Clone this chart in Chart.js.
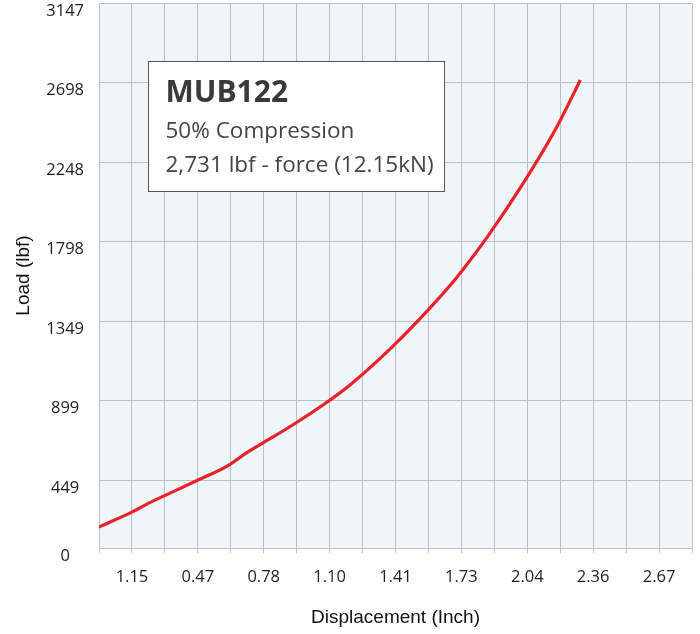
<!DOCTYPE html>
<html lang="en">
<head>
<meta charset="UTF-8">
<title>MUB122 Load vs Displacement</title>
<style>
    body { margin: 0; background: #fff; }
    #box { width: 700px; height: 634px; }
</style>
</head>
<body>
<div id="box"><canvas id="grafico"></canvas></div>
<script src="https://cdn.jsdelivr.net/npm/chart.js"></script>
<script>
    // values
    const xTickLabels = ['', '1.15', '', '0.47', '', '0.78', '', '1.10', '', '1.41', '', '1.73', '', '2.04', '', '2.36', '', '2.67', ''];
    const xStep = 0.1572;
    const yTickValues = [67, 449, 899, 1349, 1798, 2248, 2698, 3147];
    const yTickLabels = ['0', '449', '899', '1349', '1798', '2248', '2698', '3147'];

    const displacement = [0, 0.154, 0.245, 0.308, 0.463, 0.618, 0.698, 0.770, 0.924, 1.077, 1.199, 1.387, 1.533, 1.704, 1.859, 2.020, 2.181, 2.297];
    const load = [186, 268, 325, 360, 446, 534, 600, 652, 762, 882, 990, 1190, 1365, 1592, 1835, 2120, 2439, 2712];

    const boxLines = ['MUB122', '50% Compression', '2,731 lbf - force (12.15kN)'];

    const pontos = displacement.map((x, i) => ({ x: x, y: load[i] }));

    const fundoPlot = {
        id: 'fundoPlot',
        beforeDraw(chart) {
            const { ctx, chartArea: a } = chart;
            ctx.save();
            ctx.fillStyle = '#eef6fc';
            ctx.fillRect(a.left, a.top, a.right - a.left, a.bottom - a.top);
            ctx.restore();
        }
    };

    const caixaTexto = {
        id: 'caixaTexto',
        afterDatasetsDraw(chart) {
            const { ctx, chartArea: a } = chart;
            const x = a.left + 49.5, y = a.top + 58.5;
            ctx.save();
            ctx.fillStyle = '#ffffff';
            ctx.fillRect(x, y, 296, 130);
            ctx.strokeStyle = '#555555';
            ctx.lineWidth = 1;
            ctx.strokeRect(x, y, 296, 130);
            ctx.textBaseline = 'alphabetic';
            ctx.fillStyle = '#3a3a3a';
            ctx.font = 'bold 30px "Open Sans"';
            ctx.fillText(boxLines[0], x + 17, y + 40);
            ctx.fillStyle = '#444444';
            ctx.font = '22.5px "Open Sans"';
            ctx.fillText(boxLines[1], x + 17, y + 76);
            ctx.fillText(boxLines[2], x + 17, y + 110);
            ctx.restore();
        }
    };

    new Chart(document.getElementById('grafico'), {
        type: 'line',
        data: {
            datasets: [{
                data: pontos,
                borderColor: '#e8212b',
                borderWidth: 3.2,
                pointRadius: 0,
                cubicInterpolationMode: 'monotone',
                fill: false
            }]
        },
        options: {
            responsive: true,
            maintainAspectRatio: false,
            animation: false,
            layout: { padding: { top: 3, right: 8, left: 0, bottom: 0 } },
            plugins: {
                legend: { display: false },
                tooltip: { enabled: false }
            },
            scales: {
                x: {
                    type: 'linear',
                    min: 0,
                    max: xStep * (xTickLabels.length - 1),
                    afterBuildTicks(scale) {
                        scale.ticks = xTickLabels.map((_, i) => ({ value: i * xStep }));
                    },
                    afterFit(scale) {
                        scale.height = 86;
                        scale.paddingLeft = 0;
                        scale.paddingRight = 0;
                    },
                    grid: { color: '#bcc0c4', lineWidth: 1, drawTicks: true, tickLength: 5 },
                    border: { color: '#bcc0c4' },
                    ticks: {
                        autoSkip: false,
                        maxRotation: 0,
                        padding: 14,
                        color: '#1e1e1e',
                        font: { family: '"Open Sans"', size: 16.5 },
                        callback: (value, index) => xTickLabels[index]
                    },
                    title: {
                        display: true,
                        text: 'Displacement (Inch)',
                        color: '#111111',
                        font: { family: '"Liberation Sans", Arial', size: 19 },
                        padding: { top: 0, bottom: 5 }
                    }
                },
                y: {
                    type: 'linear',
                    min: yTickValues[0],
                    max: yTickValues[yTickValues.length - 1],
                    afterBuildTicks(scale) {
                        scale.ticks = yTickValues.map(v => ({ value: v }));
                    },
                    afterFit(scale) {
                        scale.width = 99;
                        scale.paddingTop = 0;
                        scale.paddingBottom = 0;
                    },
                    grid: { color: '#bcc0c4', lineWidth: 1, drawTicks: false },
                    border: { color: '#bcc0c4' },
                    ticks: {
                        autoSkip: false,
                        padding: 15,
                        crossAlign: 'center',
                        labelOffset: 8,
                        color: '#1e1e1e',
                        font: { family: '"Open Sans"', size: 16.5 },
                        callback: (value, index) => yTickLabels[index]
                    },
                    title: {
                        display: true,
                        text: 'Load (lbf)',
                        color: '#111111',
                        font: { family: '"Liberation Sans", Arial', size: 19 },
                        padding: { top: 12, bottom: 0 }
                    }
                }
            }
        },
        plugins: [fundoPlot, caixaTexto]
    });
</script>
</body>
</html>
